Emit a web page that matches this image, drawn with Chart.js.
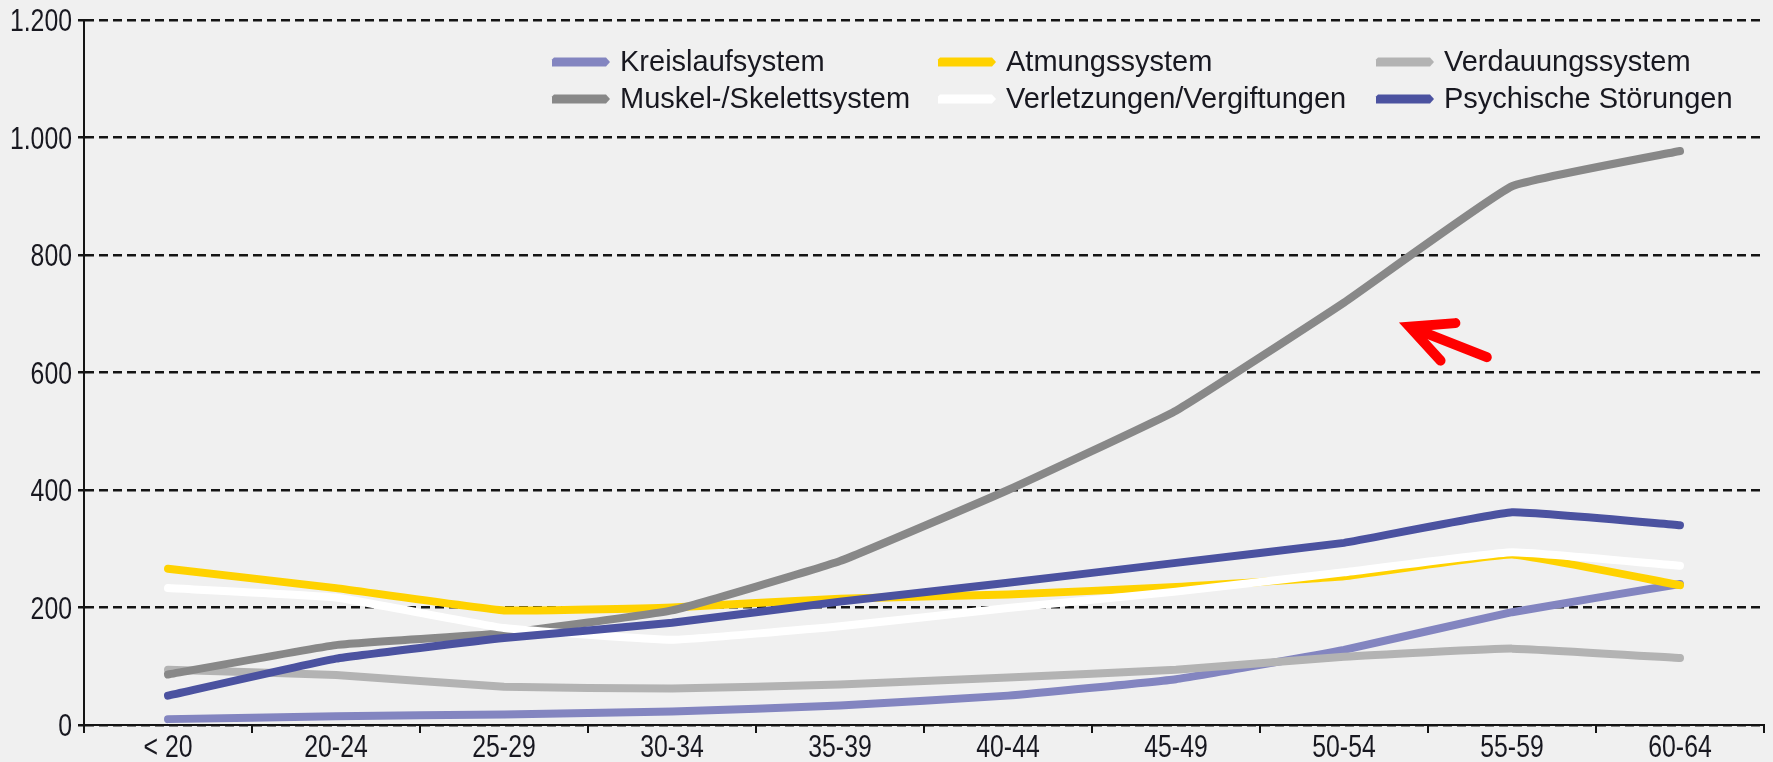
<!DOCTYPE html>
<html>
<head>
<meta charset="utf-8">
<script src="https://cdn.jsdelivr.net/npm/chart.js@4.4.1/dist/chart.umd.min.js"></script>
<style>
  html, body { margin: 0; padding: 0; background: #f0f0f0; }
  #wrap { width: 1773px; height: 762px; }
</style>
</head>
<body>
<div id="wrap"><canvas id="c" width="1773" height="762"></canvas></div>
<script>
// ---- data ----
const categories = ['< 20', '20-24', '25-29', '30-34', '35-39', '40-44', '45-49', '50-54', '55-59', '60-64'];
const seriesNames = ['Kreislaufsystem', 'Atmungssystem', 'Verdauungssystem', 'Muskel-/Skelettsystem', 'Verletzungen/Vergiftungen', 'Psychische Störungen'];
const kreislauf    = [10, 15, 18, 23, 33, 50, 78, 128, 192, 240];
const atmung       = [266, 233, 195, 200, 215, 222, 235, 253, 290, 238];
const verdauung    = [94, 85, 65, 62, 69, 81, 94, 116, 130, 114];
const muskel       = [86, 136, 156, 195, 279, 400, 535, 719, 917, 977];
const verletzungen = [233, 217, 165, 145, 168, 199, 227, 260, 294, 271];
const psychische   = [50, 113, 148, 174, 210, 242, 276, 310, 362, 340];
const yTickLabels  = ['0', '200', '400', '600', '800', '1.000', '1.200'];
// arrow annotation (in data units: category index, value)
const arrowTip  = [7.39, 678];
const arrowTail = [7.85, 626];

const FONT = '"Liberation Sans", Arial, sans-serif';
const TEXT = '#181820';
const AXIS = '#141414';
const TICK_SIZE = 31, TICK_SX = 0.8;

const colors = ['#8385c0', '#ffd200', '#b3b3b3', '#888888', '#ffffff', '#4b52a0'];
const drawOrder = [6, 4, 5, 3, 2, 1];
const values = [kreislauf, atmung, verdauung, muskel, verletzungen, psychische];

const datasets = seriesNames.map((n, i) => ({
  label: n,
  data: values[i],
  borderColor: colors[i],
  backgroundColor: colors[i],
  order: drawOrder[i]
}));

function condensedText(ctx, text, x, y, align, size, sx) {
  ctx.save();
  ctx.translate(x, y);
  ctx.scale(sx, 1);
  ctx.font = size + 'px ' + FONT;
  ctx.textAlign = align;
  ctx.textBaseline = 'alphabetic';
  ctx.fillStyle = TEXT;
  ctx.fillText(text, 0, 0);
  ctx.restore();
}

const bgPlugin = {
  id: 'bg',
  beforeDraw(chart) {
    const ctx = chart.ctx;
    ctx.save();
    ctx.fillStyle = '#f0f0f0';
    ctx.fillRect(0, 0, chart.width, chart.height);
    ctx.restore();
  }
};

// tick labels drawn in a condensed face, at the positions of the library's own ticks
const tickLabelPlugin = {
  id: 'tickLabels',
  afterDraw(chart) {
    const ctx = chart.ctx;
    const xs = chart.scales.x, ys = chart.scales.y;
    const cap = TICK_SIZE * 0.716;
    xs.ticks.forEach((t, i) => {
      const px = xs.getPixelForTick(i);
      condensedText(ctx, xs.getLabelForValue(t.value), px, xs.top + 32, 'center', TICK_SIZE, TICK_SX);
    });
    ys.ticks.forEach((t, i) => {
      const py = ys.getPixelForTick(i);
      condensedText(ctx, yTickLabels[i], ys.right - 12, py + cap / 2, 'right', TICK_SIZE, TICK_SX);
    });
  }
};

const legendPlugin = {
  id: 'customLegend',
  afterDraw(chart, args, opts) {
    const ctx = chart.ctx;
    ctx.save();
    ctx.font = '29px ' + FONT;
    ctx.textBaseline = 'middle';
    ctx.textAlign = 'left';
    chart.data.datasets.forEach((ds, i) => {
      const col = i % 3, row = Math.floor(i / 3);
      const x = opts.cols[col], y = opts.rows[row];
      const w = opts.swatch, h = 9;
      ctx.fillStyle = ds.borderColor;
      ctx.beginPath();
      ctx.moveTo(x + 2, y - h / 2);
      ctx.lineTo(x + w - 4, y - h / 2);
      ctx.lineTo(x + w, y);
      ctx.lineTo(x + w - 4, y + h / 2);
      ctx.lineTo(x, y + h / 2);
      ctx.lineTo(x, y - h / 2 + 2);
      ctx.closePath();
      ctx.fill();
      ctx.fillStyle = TEXT;
      ctx.fillText(ds.label, x + opts.textGap, y + 1);
    });
    ctx.restore();
  }
};

const arrowPlugin = {
  id: 'arrow',
  afterDraw(chart) {
    const xs = chart.scales.x, ys = chart.scales.y;
    const tx = xs.getPixelForValue(arrowTip[0]), ty = ys.getPixelForValue(arrowTip[1]);
    const bx = xs.getPixelForValue(arrowTail[0]), by = ys.getPixelForValue(arrowTail[1]);
    const ang = Math.atan2(by - ty, bx - tx);
    const len = 46, spread = 26 * Math.PI / 180;
    const ctx = chart.ctx;
    ctx.save();
    ctx.strokeStyle = '#ff0000';
    ctx.lineWidth = 10;
    ctx.lineCap = 'round';
    ctx.lineJoin = 'miter';
    ctx.beginPath();
    ctx.moveTo(bx, by);
    ctx.lineTo(tx + 8 * Math.cos(ang), ty + 8 * Math.sin(ang));
    ctx.stroke();
    ctx.beginPath();
    ctx.moveTo(tx + len * Math.cos(ang - spread), ty + len * Math.sin(ang - spread));
    ctx.lineTo(tx, ty);
    ctx.lineTo(tx + len * Math.cos(ang + spread), ty + len * Math.sin(ang + spread));
    ctx.stroke();
    ctx.restore();
  }
};

new Chart(document.getElementById('c'), {
  type: 'line',
  data: { labels: categories, datasets },
  plugins: [bgPlugin, tickLabelPlugin, legendPlugin, arrowPlugin],
  options: {
    responsive: false,
    animation: false,
    devicePixelRatio: 1,
    layout: { padding: { left: 0, right: 9, top: 20, bottom: 0 } },
    elements: {
      point: { radius: 0, hoverRadius: 0 },
      line: { borderWidth: 8, tension: 0.1, borderCapStyle: 'round', borderJoinStyle: 'round', fill: false }
    },
    plugins: {
      legend: { display: false },
      tooltip: { enabled: false },
      customLegend: { cols: [552, 938, 1376], rows: [62, 99], swatch: 58, textGap: 68 }
    },
    scales: {
      x: {
        offset: true,
        grid: { offset: true, drawOnChartArea: false, drawTicks: true, tickLength: 8, color: AXIS, lineWidth: 2 },
        border: { display: true, color: AXIS, width: 2 },
        ticks: { font: { family: FONT, size: 20 }, color: 'rgba(0,0,0,0)', padding: 2, maxRotation: 0, autoSkip: false },
        afterFit(s) { s.height = 37; }
      },
      y: {
        min: 0, max: 1200,
        ticks: { stepSize: 200, font: { family: FONT, size: 20 }, color: 'rgba(0,0,0,0)', padding: 7,
                 callback: (v, i) => yTickLabels[i] },
        grid: { color: AXIS, lineWidth: 2.5, tickLength: 6, tickBorderDash: [] },
        border: { display: true, color: AXIS, width: 2, dash: [9, 5] },
        afterFit(s) { s.width = 84; }
      }
    }
  }
});
</script>
</body>
</html>
